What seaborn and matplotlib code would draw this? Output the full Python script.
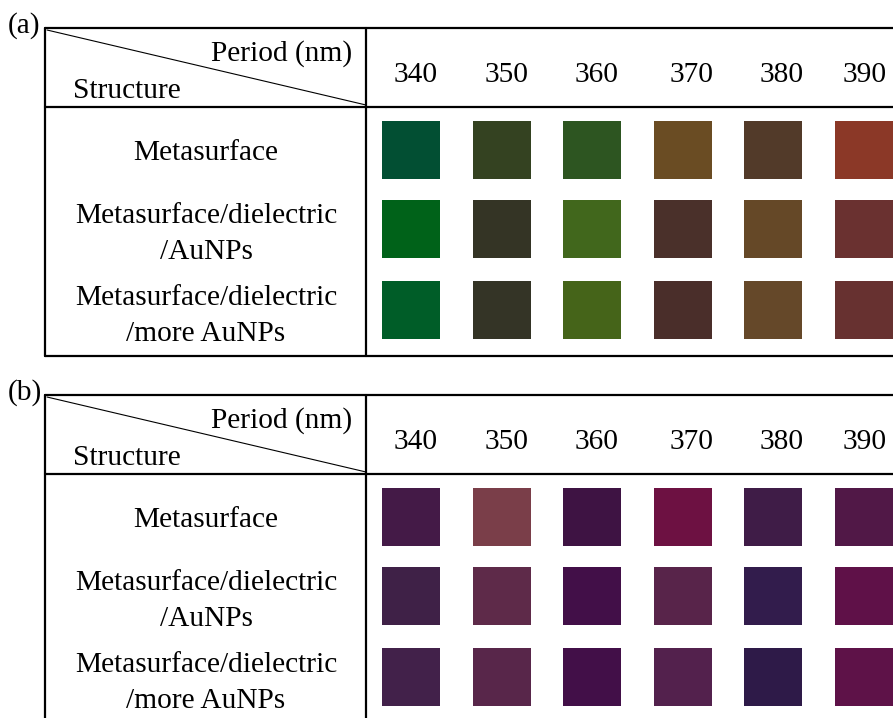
import matplotlib.pyplot as plt
import seaborn as sns
import pandas as pd

periods = ["340", "350", "360", "370", "380", "390"]
structures = ["Metasurface", "Metasurface/dielectric\n/AuNPs", "Metasurface/dielectric\n/more AuNPs"]

colors_a = [
    ["#024F33", "#344221", "#2D5521", "#6A4C23", "#523A29", "#8B3827"],
    ["#006219", "#343425", "#41671C", "#4A302A", "#654827", "#6A3130"],
    ["#005D28", "#343426", "#456419", "#4A2E2A", "#654829", "#673130"],
]
colors_b = [
    ["#441A47", "#7A3E49", "#3E1343", "#6D1142", "#3F1C47", "#511847"],
    ["#3F2147", "#5E2A49", "#420F48", "#58244A", "#321C4C", "#5F1148"],
    ["#42214A", "#58264A", "#420F48", "#53214D", "#2E1A48", "#5E1248"],
]

sns.set_style("white")
plt.rcParams['font.family'] = ['Liberation Serif', 'DejaVu Serif']
plt.rcParams['text.color'] = 'black'

fig = plt.figure(figsize=(8.93, 7.18), dpi=100)
ax = fig.add_axes([0, 0, 1, 1])

# layout in pixel coordinates
left, split, right = 45, 366, 900
col_x0, col_dx = 411, 90.5
label_x = [416, 507, 597, 692, 782, 865]
fs = 21.2


def draw_panel(top, colors, tag, bottom):
    head = top + 79
    lw = 1.6
    ax.plot([left, right], [top, top], color='black', lw=lw)
    ax.plot([left, right], [head, head], color='black', lw=lw)
    ax.plot([left, left], [top, bottom], color='black', lw=lw)
    ax.plot([split, split], [top, bottom], color='black', lw=lw)
    if bottom < 718:
        ax.plot([left, right], [bottom, bottom], color='black', lw=lw)
    ax.plot([left + 2, split], [top + 2, head - 2], color='black', lw=0.8)
    ax.text(8, top - 2, tag, fontsize=fs, ha='left', va='center')
    ax.text(352, top + 26, "Period (nm)", fontsize=fs, ha='right', va='center')
    ax.text(73, top + 63, "Structure", fontsize=fs, ha='left', va='center')
    for p, x in zip(periods, label_x):
        ax.text(x, top + 47, p, fontsize=fs, ha='center', va='center')

    # row label lines, one text per line
    line_y = [[head + 46], [head + 109, head + 145], [head + 191, head + 227]]
    for s, ys in zip(structures, line_y):
        for part, y in zip(s.split("\n"), ys):
            ax.text(206, y, part, fontsize=fs, ha='center', va='center')

    row_y = [head + 43, head + 122, head + 203]
    rows = []
    for r, row in enumerate(colors):
        for c, col in enumerate(row):
            rows.append({"x": col_x0 + c * col_dx, "y": row_y[r], "color": col})
    df = pd.DataFrame(rows)
    pal = {c: c for c in df["color"].unique()}
    sns.scatterplot(data=df, x="x", y="y", hue="color", palette=pal, marker='s',
                    s=(58 * 72 / 100) ** 2, linewidth=0, legend=False, ax=ax)


draw_panel(28, colors_a, "(a)", 356)
draw_panel(395, colors_b, "(b)", 730)

ax.set_xlim(0, 893)
ax.set_ylim(718, 0)
ax.axis('off')

plt.savefig("out.png", dpi=100)
